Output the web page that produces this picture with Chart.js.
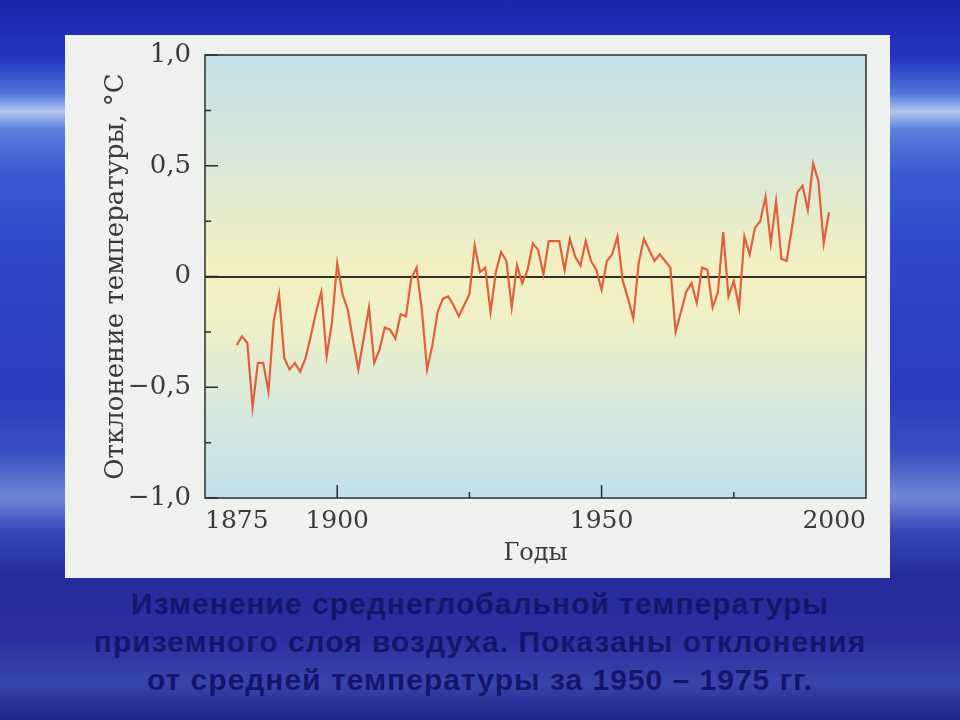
<!DOCTYPE html>
<html lang="ru">
<head>
<meta charset="utf-8">
<title>Изменение среднеглобальной температуры</title>
<script src="https://cdn.jsdelivr.net/npm/chart.js@4.4.1/dist/chart.umd.min.js"></script>
<style>
  html, body { margin: 0; padding: 0; }
  body {
    width: 960px; height: 720px; overflow: hidden; position: relative;
    background: linear-gradient(to bottom,
      #1c26a8 0%, #2434c2 8%, #4f76da 13%, #b4c6ee 15.5%, #5a80de 18%,
      #3a5ad0 24%, #2e46c6 36%, #2a3cbc 55%, #3a50c4 63%, #7088d6 69%,
      #3644b8 74%, #262c9c 80%, #2a2e9e 88%, #3844ac 95%, #1e2488 100%);
  }
  #panel {
    position: absolute; left: 65px; top: 35px; width: 825px; height: 543px;
    background: #eff1ee;
  }
  #caption {
    position: absolute; left: 0; top: 585px; width: 960px;
    text-align: center; color: #14166e; letter-spacing: 1px;
    font: bold 30px "Liberation Sans", Arial, sans-serif; line-height: 38px;
  }
</style>
</head>
<body>
<div id="panel"><canvas id="tempChart"></canvas></div>
<div id="caption">Изменение среднеглобальной температуры<br>приземного слоя воздуха. Показаны отклонения<br>от средней температуры за 1950 – 1975 гг.</div>
<script>
// годы и отклонения температуры (°C) от среднего за 1950-1975
const years = [
  1881, 1882, 1883, 1884, 1885, 1886, 1887, 1888, 1889, 1890,
  1891, 1892, 1893, 1894, 1895, 1896, 1897, 1898, 1899, 1900,
  1901, 1902, 1903, 1904, 1905, 1906, 1907, 1908, 1909, 1910,
  1911, 1912, 1913, 1914, 1915, 1916, 1917, 1918, 1919, 1920,
  1921, 1922, 1923, 1924, 1925, 1926, 1927, 1928, 1929, 1930,
  1931, 1932, 1933, 1934, 1935, 1936, 1937, 1938, 1939, 1940,
  1941, 1942, 1943, 1944, 1945, 1946, 1947, 1948, 1949, 1950,
  1951, 1952, 1953, 1954, 1955, 1956, 1957, 1958, 1959, 1960,
  1961, 1962, 1963, 1964, 1965, 1966, 1967, 1968, 1969, 1970,
  1971, 1972, 1973, 1974, 1975, 1976, 1977, 1978, 1979, 1980,
  1981, 1982, 1983, 1984, 1985, 1986, 1987, 1988, 1989, 1990,
  1991, 1992, 1993
];
const anomalies = [
  -0.31, -0.27, -0.30, -0.59, -0.39, -0.39, -0.52, -0.20, -0.08, -0.37,
  -0.42, -0.39, -0.43, -0.37, -0.27, -0.16, -0.07, -0.36, -0.21, 0.06,
  -0.08, -0.15, -0.29, -0.42, -0.28, -0.14, -0.39, -0.33, -0.23, -0.24,
  -0.28, -0.17, -0.18, -0.01, 0.04, -0.15, -0.42, -0.31, -0.16, -0.10,
  -0.09, -0.13, -0.18, -0.13, -0.08, 0.14, 0.02, 0.04, -0.16, 0.02,
  0.11, 0.07, -0.14, 0.05, -0.03, 0.03, 0.15, 0.12, 0.01, 0.16,
  0.16, 0.16, 0.03, 0.17, 0.09, 0.05, 0.16, 0.07, 0.03, -0.06,
  0.07, 0.10, 0.18, -0.02, -0.10, -0.19, 0.06, 0.17, 0.12, 0.07,
  0.10, 0.07, 0.04, -0.25, -0.16, -0.07, -0.03, -0.12, 0.04, 0.03,
  -0.14, -0.07, 0.20, -0.09, -0.02, -0.14, 0.18, 0.10, 0.22, 0.25,
  0.36, 0.15, 0.34, 0.08, 0.07, 0.22, 0.38, 0.41, 0.30, 0.51,
  0.43, 0.15, 0.29
];

const yTicks = [-1, -0.5, 0, 0.5, 1];
const yTickLabels = ["−1,0", "−0,5", "0", "0,5", "1,0"];
const yMinorTicks = [-0.75, -0.25, 0.25, 0.75];
const xTicks = [1875, 1900, 1950, 2000];
const xMinorTicks = [1925, 1975];

const serif = "'DejaVu Serif', 'Liberation Serif', serif";
const textColor = "#3a3a3a";

// фон области графика, рамка и внутренние засечки
const plotFrame = {
  id: "plotFrame",
  beforeDraw(chart) {
    const { ctx, chartArea: a } = chart;
    const g = ctx.createLinearGradient(0, a.top, 0, a.bottom);
    g.addColorStop(0, "#c4e0e8");
    g.addColorStop(0.25, "#d9e8d6");
    g.addColorStop(0.47, "#f2f0c2");
    g.addColorStop(0.6, "#eff0c6");
    g.addColorStop(0.8, "#d6e8dc");
    g.addColorStop(1, "#c2e0ea");
    ctx.save();
    ctx.fillStyle = g;
    ctx.fillRect(a.left, a.top, a.width, a.height);
    ctx.restore();
  },
  afterDraw(chart) {
    const { ctx, chartArea: a, scales: { x, y } } = chart;
    ctx.save();
    ctx.strokeStyle = "#2c2c2c";
    ctx.lineWidth = 1.5;
    ctx.beginPath();
    yTicks.forEach(v => {
      const p = y.getPixelForValue(v);
      ctx.moveTo(a.left, p);
      ctx.lineTo(a.left + 13, p);
    });
    yMinorTicks.forEach(v => {
      const p = y.getPixelForValue(v);
      ctx.moveTo(a.left, p);
      ctx.lineTo(a.left + 6, p);
    });
    xTicks.slice(1, -1).forEach(v => {
      const p = x.getPixelForValue(v);
      ctx.moveTo(p, a.bottom);
      ctx.lineTo(p, a.bottom - 13);
    });
    xMinorTicks.forEach(v => {
      const p = x.getPixelForValue(v);
      ctx.moveTo(p, a.bottom);
      ctx.lineTo(p, a.bottom - 6);
    });
    ctx.stroke();
    ctx.strokeRect(a.left, a.top, a.width, a.height);
    ctx.restore();
  }
};

const ctx = document.getElementById("tempChart");

new Chart(ctx, {
  type: "line",
  data: {
    datasets: [
      {
        label: "Отклонение температуры",
        data: years.map((yr, i) => ({ x: yr, y: anomalies[i] })),
        borderColor: "#e0603e",
        borderWidth: 2.2,
        pointRadius: 0,
        tension: 0,
      },
    ],
  },
  options: {
    responsive: true,
    maintainAspectRatio: false,
    animation: false,
    layout: { padding: { left: 0, top: 20, right: 24, bottom: 0 } },
    plugins: {
      legend: { display: false },
      tooltip: { enabled: false },
    },
    scales: {
      x: {
        type: "linear",
        min: 1875,
        max: 2000,
        afterBuildTicks: s => { s.ticks = xTicks.map(v => ({ value: v })); },
        afterFit: s => { s.height = 80; },
        grid: { display: false },
        border: { display: false },
        ticks: {
          align: "inner",
          maxRotation: 0,
          autoSkip: false,
          padding: 0,
          color: textColor,
          font: { family: serif, size: 25 },
          callback: v => String(v),
        },
        title: {
          display: true,
          text: "Годы",
          color: textColor,
          font: { family: serif, size: 24 },
          padding: { top: 0, bottom: 10 },
        },
      },
      y: {
        min: -1,
        max: 1,
        afterBuildTicks: s => { s.ticks = yTicks.map(v => ({ value: v })); },
        afterFit: s => {
          s.width = 140;
          s.paddingTop = 0;
          s.paddingBottom = 0;
        },
        grid: {
          drawTicks: false,
          lineWidth: 2,
          color: c => (c.tick && c.tick.value === 0 ? "#2e3124" : "rgba(0,0,0,0)"),
        },
        border: { display: false },
        ticks: {
          padding: 14,
          color: textColor,
          font: { family: serif, size: 26 },
          callback: v => yTickLabels[yTicks.indexOf(v)],
        },
        title: {
          display: true,
          text: "Отклонение температуры, °C",
          color: textColor,
          font: { family: serif, size: 26 },
          padding: { top: 36 },
        },
      },
    },
  },
  plugins: [plotFrame],
});
</script>
</body>
</html>
